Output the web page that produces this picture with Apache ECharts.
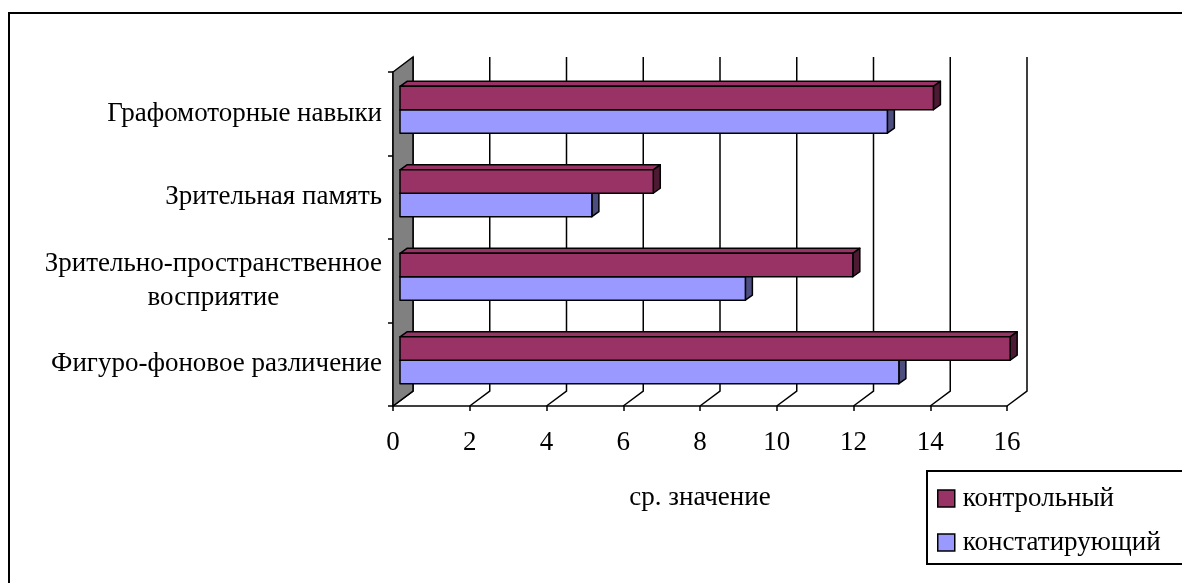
<!DOCTYPE html>
<html>
<head>
<meta charset="utf-8">
<script src="https://cdn.jsdelivr.net/npm/echarts@6/dist/echarts.min.js"></script>
<style>
html,body{margin:0;padding:0;background:#fff;}
#chart{width:1182px;height:583px;}
</style>
</head>
<body>
<div id="chart"></div>
<script>
// ---- data ----
var categories = ['Фигуро-фоновое различение', 'Зрительно-пространственное\nвосприятие', 'Зрительная память', 'Графомоторные навыки'];
var seriesNames = ['контрольный', 'констатирующий'];
var controlValues = [15.9, 11.8, 6.6, 13.9];
var statingValues = [13.0, 9.0, 5.0, 12.7];
var xTicks = [0, 2, 4, 6, 8, 10, 12, 14, 16];
var axisTitle = 'ср. значение';

// ---- styling ----
var FONT = 'Liberation Serif, Times New Roman, serif';
var FS = 27;
var DEPTH = [20, -15];      // wall depth
var BAR_FRONT = [7, -4];    // bar front plane offset
var BAR_DEPTH = [7, -5];    // bar thickness in depth
var BAR_FRAC = 0.281;

var colors = {
  control: {front: '#993366', top: '#993366', side: '#4d1a33'},
  stating: {front: '#9999ff', top: '#9999ff', side: '#4d4d80'}
};

function makeBarRender(pal, upper) {
  return function (params, api) {
    var val = api.value(0), cat = api.value(1);
    var p0 = api.coord([0, cat]);
    var p1 = api.coord([val, cat]);
    var band = api.size([0, 1])[1];
    var h = band * BAR_FRAC;
    var x0 = p0[0] + BAR_FRONT[0];
    var x1 = p1[0] + BAR_FRONT[0];
    var yc = p0[1] + BAR_FRONT[1];
    var yTop = upper ? yc - h : yc;
    var dx = BAR_DEPTH[0], dy = BAR_DEPTH[1];
    var st = {stroke: '#000', lineWidth: 1.5, lineJoin: 'round'};
    return {
      type: 'group',
      children: [
        {type: 'polygon', shape: {points: [[x0, yTop], [x0 + dx, yTop + dy], [x1 + dx, yTop + dy], [x1, yTop]]},
          style: Object.assign({fill: pal.top}, st)},
        {type: 'polygon', shape: {points: [[x1, yTop], [x1 + dx, yTop + dy], [x1 + dx, yTop + h + dy], [x1, yTop + h]]},
          style: Object.assign({fill: pal.side}, st)},
        {type: 'rect', shape: {x: x0, y: yTop, width: x1 - x0, height: h},
          style: Object.assign({fill: pal.front}, st)}
      ]
    };
  };
}

var chart = echarts.init(document.getElementById('chart'), null, {renderer: 'canvas'});

var option = {
  backgroundColor: '#fff',
  animation: false,
  graphic: [{
    type: 'rect', left: 8, top: 12, z: -10,
    shape: {width: 1200, height: 600},
    style: {fill: '#fff', stroke: '#000', lineWidth: 2}
  }],
  grid: {left: 393, right: 175, top: 72, bottom: 177},
  legend: {
    data: seriesNames,
    orient: 'vertical',
    left: 927, top: 471,
    icon: 'rect', itemWidth: 17, itemHeight: 17, itemGap: 17,
    borderColor: '#000', borderWidth: 2,
    padding: [14, 60, 8, 10],
    textStyle: {fontFamily: FONT, fontSize: FS, color: '#000', padding: [0, 0, 0, 3]},
    itemStyle: {borderColor: '#000', borderWidth: 1.5}
  },
  xAxis: {
    type: 'value', min: 0, max: 16, interval: 2,
    axisLine: {show: true, lineStyle: {color: '#000', width: 1.5}},
    axisTick: {show: true, length: 5, lineStyle: {color: '#000', width: 1.5}},
    splitLine: {show: false},
    axisLabel: {
      color: '#000', fontFamily: FONT, fontSize: FS, margin: 23,
      formatter: function (v) { return xTicks.indexOf(v) >= 0 ? String(v) : ''; }
    },
    name: axisTitle, nameLocation: 'middle', nameGap: 78,
    nameTextStyle: {color: '#000', fontFamily: FONT, fontSize: FS}
  },
  yAxis: {
    type: 'category', data: categories,
    axisLine: {show: true, lineStyle: {color: '#000', width: 1.5}},
    axisTick: {show: true, length: 5, lineStyle: {color: '#000', width: 1.5}},
    splitLine: {show: false},
    axisLabel: {
      color: '#000', fontFamily: FONT, fontSize: FS, margin: 11,
      formatter: function (v) { return v.split('\n').map(function (s) { return '{c|' + s + '}'; }).join('\n'); },
      rich: {c: {align: 'center', fontFamily: FONT, fontSize: FS, color: '#000', lineHeight: 34}}
    }
  },
  series: [
    {
      name: '_grid', type: 'custom', silent: true, z: 1,
      data: xTicks.map(function (v) { return [v, 0]; }),
      renderItem: function (params, api) {
        var cs = params.coordSys;
        var x = api.coord([api.value(0), 0])[0];
        var bottom = cs.y + cs.height, top = cs.y;
        return {
          type: 'polyline',
          shape: {points: [[x, bottom], [x + DEPTH[0], bottom + DEPTH[1]], [x + DEPTH[0], top + DEPTH[1]]]},
          style: {stroke: '#000', lineWidth: 1.5, fill: null}
        };
      }
    },
    {
      name: '_wall', type: 'custom', silent: true, z: 1,
      data: [[0, 0]],
      renderItem: function (params, api) {
        var cs = params.coordSys;
        var x = api.coord([0, 0])[0];
        var bottom = cs.y + cs.height, top = cs.y;
        return {
          type: 'polygon',
          shape: {points: [[x, bottom], [x, top], [x + DEPTH[0], top + DEPTH[1]], [x + DEPTH[0], bottom + DEPTH[1]]]},
          style: {fill: '#808080', stroke: '#000', lineWidth: 1.5}
        };
      }
    },
    {
      name: seriesNames[1], type: 'custom', z: 3,
      itemStyle: {color: colors.stating.front, borderColor: '#000', borderWidth: 1.5},
      data: statingValues.map(function (v, i) { return [v, i]; }),
      encode: {x: 0, y: 1},
      renderItem: makeBarRender(colors.stating, false)
    },
    {
      name: seriesNames[0], type: 'custom', z: 4,
      itemStyle: {color: colors.control.front, borderColor: '#000', borderWidth: 1.5},
      data: controlValues.map(function (v, i) { return [v, i]; }),
      encode: {x: 0, y: 1},
      renderItem: makeBarRender(colors.control, true)
    }
  ]
};
chart.setOption(option);
</script>
</body>
</html>
